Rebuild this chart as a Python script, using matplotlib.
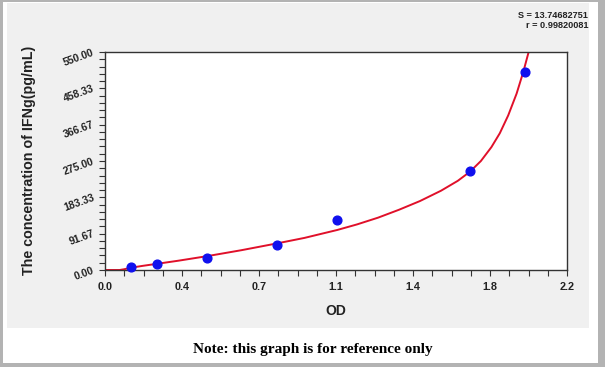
import matplotlib
matplotlib.use("Agg")
import matplotlib.pyplot as plt
from matplotlib.patches import Rectangle
from matplotlib.ticker import AutoMinorLocator

# ---- data ----
od = [0.124, 0.246, 0.487, 0.818, 1.106, 1.738, 2.000]
conc = [7.81, 15.63, 31.25, 62.5, 125.0, 250.0, 500.0]

# fitted standard curve
curve_od = [0.0, 0.07, 0.09, 0.124, 0.18, 0.246, 0.35, 0.487, 0.65, 0.818, 0.95,
            1.106, 1.20, 1.30, 1.40, 1.50, 1.60, 1.68, 1.738, 1.79, 1.84, 1.88,
            1.92, 1.96, 1.992, 2.03]
curve_conc = [0.0, 0.0, 1.8, 5.8, 10.5, 15.5, 23.5, 35.0, 50.0, 67.0, 81.0,
              101.0, 115.0, 132.0, 152.0, 174.0, 200.0, 225.0, 248.0, 275.0,
              310.0, 345.0, 390.0, 445.0, 500.0, 575.0]

x_ticks = [0.0, 2.2 / 6, 4.4 / 6, 1.1, 8.8 / 6, 11.0 / 6, 2.2]
x_labels = ["0.0", "0.4", "0.7", "1.1", "1.4", "1.8", "2.2"]
y_ticks = [0.0, 550 / 6, 1100 / 6, 275.0, 2200 / 6, 2750 / 6, 550.0]
y_labels = ["0.00", "91.67", "183.33", "275.00", "366.67", "458.33", "550.00"]

stat_lines = ["S = 13.74682751", "r = 0.99820081"]

W, H = 605, 367
fig = plt.figure(figsize=(W / 100, H / 100), dpi=100)
fig.patch.set_facecolor("white")

def px_rect(x0, y0, x1, y1, color, z=0):
    fig.add_artist(Rectangle((x0 / W, 1 - y1 / H), (x1 - x0) / W, (y1 - y0) / H,
                             transform=fig.transFigure, facecolor=color,
                             edgecolor="none", zorder=z))

# outer gray frame
px_rect(0, 0, W, H, "#b3b3b3", z=-3)
px_rect(3, 2, 598, 363, "white", z=-2)
# light gray chart panel
px_rect(7, 3, 589, 328, "#f0f0f0", z=-1)

L, R, T, B = 105, 567, 52, 270
ax = fig.add_axes([L / W, 1 - B / H, (R - L) / W, (B - T) / H])
ax.set_facecolor("white")

ax.plot(curve_od, curve_conc, color="#e0102a", lw=1.4, zorder=2, clip_on=True)
ax.plot(od, conc, "o", color="#1010ee", markersize=6.3, zorder=3, clip_on=False)

ax.set_xlim(0, 2.2)
ax.set_ylim(0, 550)
ax.set_xticks(x_ticks)
ax.set_xticklabels(x_labels, fontsize=7.8, fontweight="bold", family="Liberation Sans",
                   color="#222222")
ax.set_yticks(y_ticks)
ax.set_yticklabels(y_labels, fontsize=7.5, fontweight="bold", family="Liberation Sans",
                   color="#222222", rotation=20, ha="right", va="center",
                   rotation_mode="anchor")
ax.xaxis.set_minor_locator(AutoMinorLocator(4))
ax.yaxis.set_minor_locator(AutoMinorLocator(5))
ax.tick_params(axis="both", which="both", direction="out", length=4, width=0.8,
               color="#333333")
ax.tick_params(axis="x", which="major", pad=5)
ax.tick_params(axis="y", which="major", pad=4)
for s in ax.spines.values():
    s.set_color("#333333")
    s.set_linewidth(1.0)

ax.set_xlabel("OD", fontsize=10, fontweight="bold", family="Liberation Sans",
              color="#222222", labelpad=8)
fig.text(29 / W, 1 - 160 / H, "The concentration of IFNg(pg/mL)", rotation=90,
         ha="center", va="center", fontsize=10.3, fontweight="bold",
         family="Liberation Sans", color="#222222")

fig.text(588 / W, 1 - 15 / H, stat_lines[0], ha="right", va="center",
         fontsize=6.6, fontweight="bold", family="Liberation Sans", color="#222222")
fig.text(588 / W, 1 - 26 / H, stat_lines[1], ha="right", va="center",
         fontsize=6.6, fontweight="bold", family="Liberation Sans", color="#222222")

fig.text(313 / W, 1 - 350 / H, "Note: this graph is for reference only",
         ha="center", va="center", fontsize=11, fontweight="bold",
         family="Liberation Serif", color="black")

fig.savefig("out.png", dpi=100)
